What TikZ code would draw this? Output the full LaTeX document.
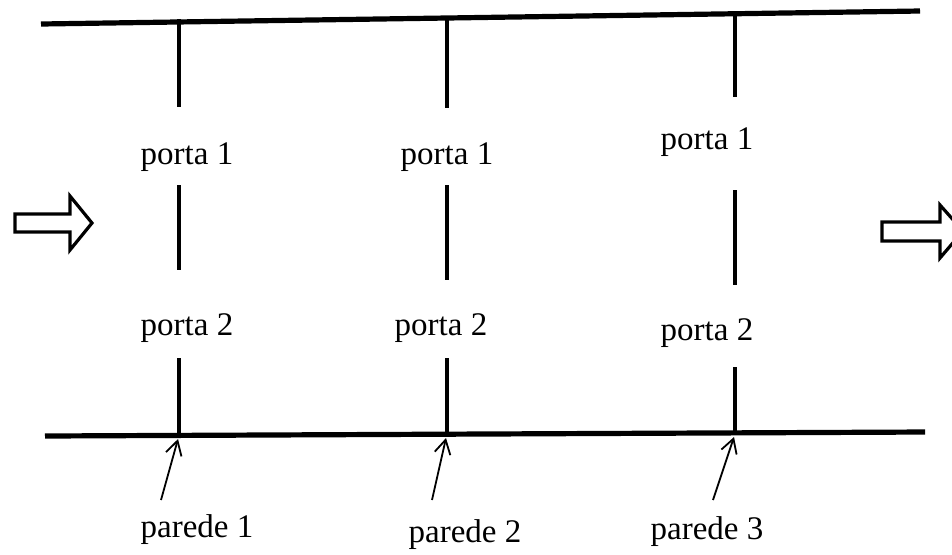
\documentclass[tikz,border=0pt]{standalone}
\usepackage{fontspec}
\setmainfont{Liberation Serif}
\usetikzlibrary{arrows.meta}
\begin{document}
\begin{tikzpicture}[x=0.5pt,y=-0.5pt,
  wall/.style={line width=2.6pt},
  gate/.style={line width=2pt},
  lbl/.style={font=\fontsize{16.5}{20}\selectfont, inner sep=0pt},
  pointer/.style={line width=0.9pt,-{Straight Barb[length=7pt,width=8pt]}},
  hollow/.style={line width=1.6pt, fill=white, line join=miter}]
\useasboundingbox (0,0) rectangle (952,554);
\clip (0,0) rectangle (952,554);
% walls
\coordinate (tl) at (41,24);
\coordinate (tr) at (920,11);
\coordinate (bl) at (45,436);
\coordinate (br) at (925,432);
\draw[wall] (tl) -- (tr);
\draw[wall] (bl) -- (br);
% gates column 1
\draw[gate] (179,19) -- (179,107);
\draw[gate] (179,185) -- (179,270);
\draw[gate] (179,358) -- (179,436);
% column 2
\draw[gate] (447,16) -- (447,108);
\draw[gate] (447,185) -- (447,280);
\draw[gate] (447,358) -- (447,435);
% column 3
\draw[gate] (735,13) -- (735,97);
\draw[gate] (735,190) -- (735,285);
\draw[gate] (735,367) -- (735,433);
% labels
\node[lbl] (p11) at (187,157) {porta 1};
\node[lbl] (p12) at (447,157) {porta 1};
\node[lbl] (p13) at (707,142) {porta 1};
\node[lbl] (p21) at (187,328) {porta 2};
\node[lbl] (p22) at (441,328) {porta 2};
\node[lbl] (p23) at (707,333) {porta 2};
\node[lbl] (w1) at (197,530) {parede 1};
\node[lbl] (w2) at (465,535) {parede 2};
\node[lbl] (w3) at (707,532) {parede 3};
% pointers
\coordinate (a1s) at (161,500); \coordinate (a1e) at (178,439);
\coordinate (a2s) at (432,500); \coordinate (a2e) at (446,438);
\coordinate (a3s) at (713,500); \coordinate (a3e) at (734,437);
\draw[pointer] (a1s) -- (a1e);
\draw[pointer] (a2s) -- (a2e);
\draw[pointer] (a3s) -- (a3e);
% hollow arrows
\draw[hollow] (15,214) -- (70,214) -- (70,196) -- (92,223) -- (70,250) -- (70,232) -- (15,232) -- cycle;
\draw[hollow] (882,222) -- (940,222) -- (940,205) -- (963,231) -- (940,258) -- (940,241) -- (882,241) -- cycle;
\end{tikzpicture}
\end{document}
